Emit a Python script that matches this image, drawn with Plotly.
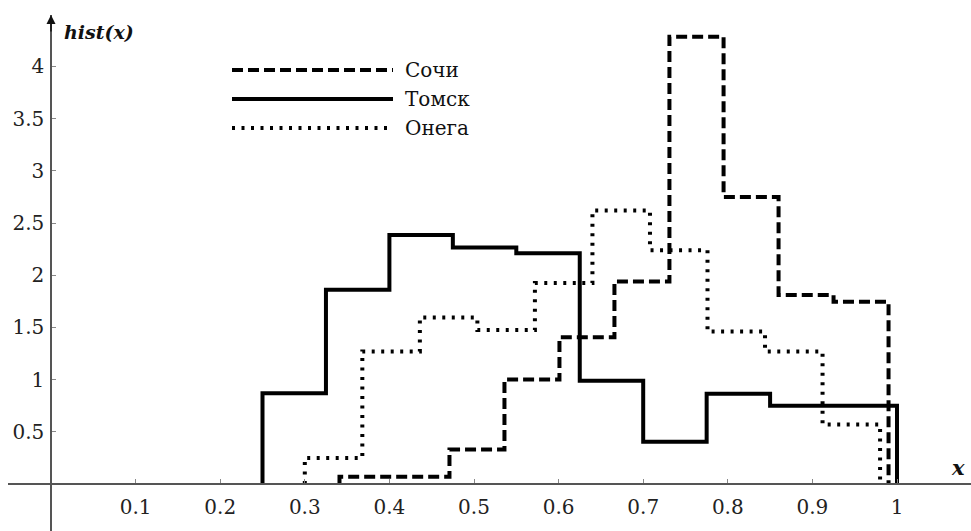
import plotly.graph_objects as go

# ---- data ----
sochi_edges = [0.341, 0.406, 0.471, 0.536, 0.601, 0.666, 0.731, 0.795, 0.860, 0.925, 0.990]
sochi_vals = [0.07, 0.07, 0.33, 1.00, 1.405, 1.94, 4.285, 2.75, 1.81, 1.745]

tomsk_edges = [0.250, 0.325, 0.400, 0.475, 0.550, 0.625, 0.700, 0.775, 0.850, 0.925, 1.000]
tomsk_vals = [0.87, 1.86, 2.385, 2.265, 2.21, 0.99, 0.405, 0.865, 0.75, 0.75]

onega_edges = [0.300, 0.368, 0.436, 0.504, 0.572, 0.640, 0.708, 0.776, 0.844, 0.912, 0.980]
onega_vals = [0.25, 1.27, 1.595, 1.475, 1.925, 2.62, 2.24, 1.46, 1.27, 0.57]

x_ticks = [0.1, 0.2, 0.3, 0.4, 0.5, 0.6, 0.7, 0.8, 0.9, 1.0]
x_ticktext = ["0.1", "0.2", "0.3", "0.4", "0.5", "0.6", "0.7", "0.8", "0.9", "1"]
y_ticks = [0.5, 1, 1.5, 2, 2.5, 3, 3.5, 4]
y_ticktext = ["0.5", "1", "1.5", "2", "2.5", "3", "3.5", "4"]

names = ["Сочи", "Томск", "Онега"]
dashes = ["11px,5px", "solid", "3px,6.5px"]

W, H = 971, 531
ML, MT = 8, 15
PW, PH = W - ML, H - MT
X0PX, Y0PX = 51, 484          # pixel position of the origin
SX, SY = 846, 104.4           # pixels per unit

xr = [(ML - X0PX) / SX, (W - X0PX) / SX]
yr = [(Y0PX - H) / SY, (Y0PX - MT) / SY]


def step_xy(edges, vals):
    xs = [edges[0]]
    ys = [0]
    for e, v in zip(edges[:-1], vals):
        xs.append(e)
        ys.append(v)
    xs.append(edges[-1]); ys.append(vals[-1])
    xs.append(edges[-1]); ys.append(0)
    return xs, ys


def px2paper(px, py):
    return (px - ML) / PW, (H - py) / PH


fig = go.Figure()
for name, edges, vals, dash in zip(names, [sochi_edges, tomsk_edges, onega_edges],
                                   [sochi_vals, tomsk_vals, onega_vals], dashes):
    xs, ys = step_xy(edges, vals)
    fig.add_trace(go.Scatter(x=xs, y=ys, mode="lines", name=name,
                             line=dict(color="#000", width=4, dash=dash, shape="hv"),
                             showlegend=False, hoverinfo="skip"))

serif = "DejaVu Serif"
axis_col = "#555"
tick_font = dict(family=serif, size=20, color="#222")

fig.update_layout(
    width=W, height=H,
    margin=dict(l=ML, r=0, t=MT, b=0),
    paper_bgcolor="white", plot_bgcolor="white",
    showlegend=False,
    font=dict(family=serif, size=20, color="#222"),
    xaxis=dict(range=xr, showgrid=False, zeroline=False,
               showline=True, linecolor=axis_col, linewidth=1.5,
               anchor="free", position=(H - Y0PX) / PH,
               tickmode="array", tickvals=x_ticks, ticktext=x_ticktext,
               ticks="inside", ticklen=4, tickcolor="#888", tickwidth=1,
               ticklabelstandoff=5, tickfont=tick_font),
    yaxis=dict(range=yr, showgrid=False, zeroline=False,
               showline=True, linecolor=axis_col, linewidth=1.5,
               anchor="free", position=(X0PX - ML) / PW,
               tickmode="array", tickvals=y_ticks, ticktext=y_ticktext,
               ticks="inside", ticklen=4, tickcolor="#888", tickwidth=1,
               ticklabelstandoff=2, tickfont=tick_font),
)

# arrow at top of y axis
fig.add_annotation(x=0, y=yr[1], xref="x", yref="y", text="", showarrow=True,
                   ax=0, ay=18, arrowhead=2, arrowsize=1.2, arrowwidth=1.5,
                   arrowcolor="#111", standoff=0)

# axis titles
hx, hy = px2paper(62, 32)
fig.add_annotation(x=hx, y=hy, xref="paper", yref="paper", text="<b><i>hist(x)</i></b>",
                   showarrow=False, xanchor="left", yanchor="middle",
                   font=dict(family=serif, size=19, color="#111"))
xx, xy = px2paper(958, 467)
fig.add_annotation(x=xx, y=xy, xref="paper", yref="paper", text="<b><i>x</i></b>",
                   showarrow=False, xanchor="center", yanchor="middle",
                   font=dict(family=serif, size=21, color="#111"))

# legend drawn manually (long sample lines)
leg_rows = [70, 99, 128]
for name, dash, py in zip(names, dashes, leg_rows):
    x0, yy = px2paper(232, py)
    x1, _ = px2paper(393, py)
    fig.add_shape(type="line", xref="paper", yref="paper", x0=x0, x1=x1, y0=yy, y1=yy,
                  line=dict(color="#000", width=4, dash=dash))
    tx, _ = px2paper(403, py)
    fig.add_annotation(x=tx, y=yy, xref="paper", yref="paper", text=name,
                       showarrow=False, xanchor="left", yanchor="middle",
                       font=dict(family=serif, size=20, color="#111"))

fig.write_html("out.html")
